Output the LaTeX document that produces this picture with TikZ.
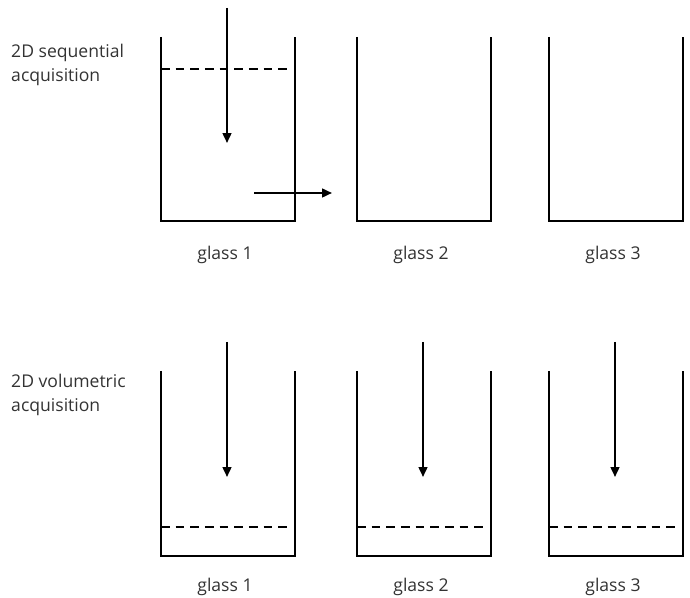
\documentclass[tikz,border=0pt]{standalone}
\usepackage{fontspec}
\setmainfont{Open Sans}
\usetikzlibrary{arrows.meta}
\begin{document}
\begin{tikzpicture}[x=0.03cm, y=-0.03cm, >={Triangle[length=8.5pt,width=7.5pt]},
  glass/.style={line width=2.4pt},
  level/.style={line width=1.6pt, dash pattern=on 7.5pt off 5pt},
  beam/.style={->, line width=1.7pt},
  lbl/.style={font=\fontsize{15}{21}\selectfont, text=black!80, inner sep=0pt},
  side/.style={lbl, align=left, anchor=west}]
  \useasboundingbox (0,0) rectangle (690,598);
  % glaeser
  \foreach \gx/\n in {161/1, 357/2, 549/3} {
    \draw[glass] (\gx,37) -- (\gx,221) -- (\gx+134,221) -- (\gx+134,37);
    \draw[glass] (\gx,371) -- (\gx,556) -- (\gx+134,556) -- (\gx+134,371);
    \node[lbl] (top\n) at (\gx+64,255) {glass \n};
    \node[lbl] (bot\n) at (\gx+64,587) {glass \n};
  }
  % linke beschriftung
  \node[side] (seq) at (11,65) {2D sequential\\acquisition};
  \node[side] (vol) at (11,395) {2D volumetric\\acquisition};
  % sequentiell: fuellstand oben, strahl und verschiebung
  \draw[level] (161,69) -- (287,69);
  \coordinate (s1) at (227,8);
  \coordinate (s2) at (227,143);
  \draw[beam] (s1) -- (s2);
  \coordinate (m1) at (254,193);
  \coordinate (m2) at (332,193);
  \draw[beam] (m1) -- (m2);
  % volumetrisch: fuellstand unten
  \foreach \gx/\n in {161/1, 357/2, 549/3} {
    \draw[level] (\gx,527) -- (\gx+126,527);
    \coordinate (v\n a) at (\gx+66,342);
    \coordinate (v\n b) at (\gx+66,477);
    \draw[beam] (v\n a) -- (v\n b);
  }
\end{tikzpicture}
\end{document}
